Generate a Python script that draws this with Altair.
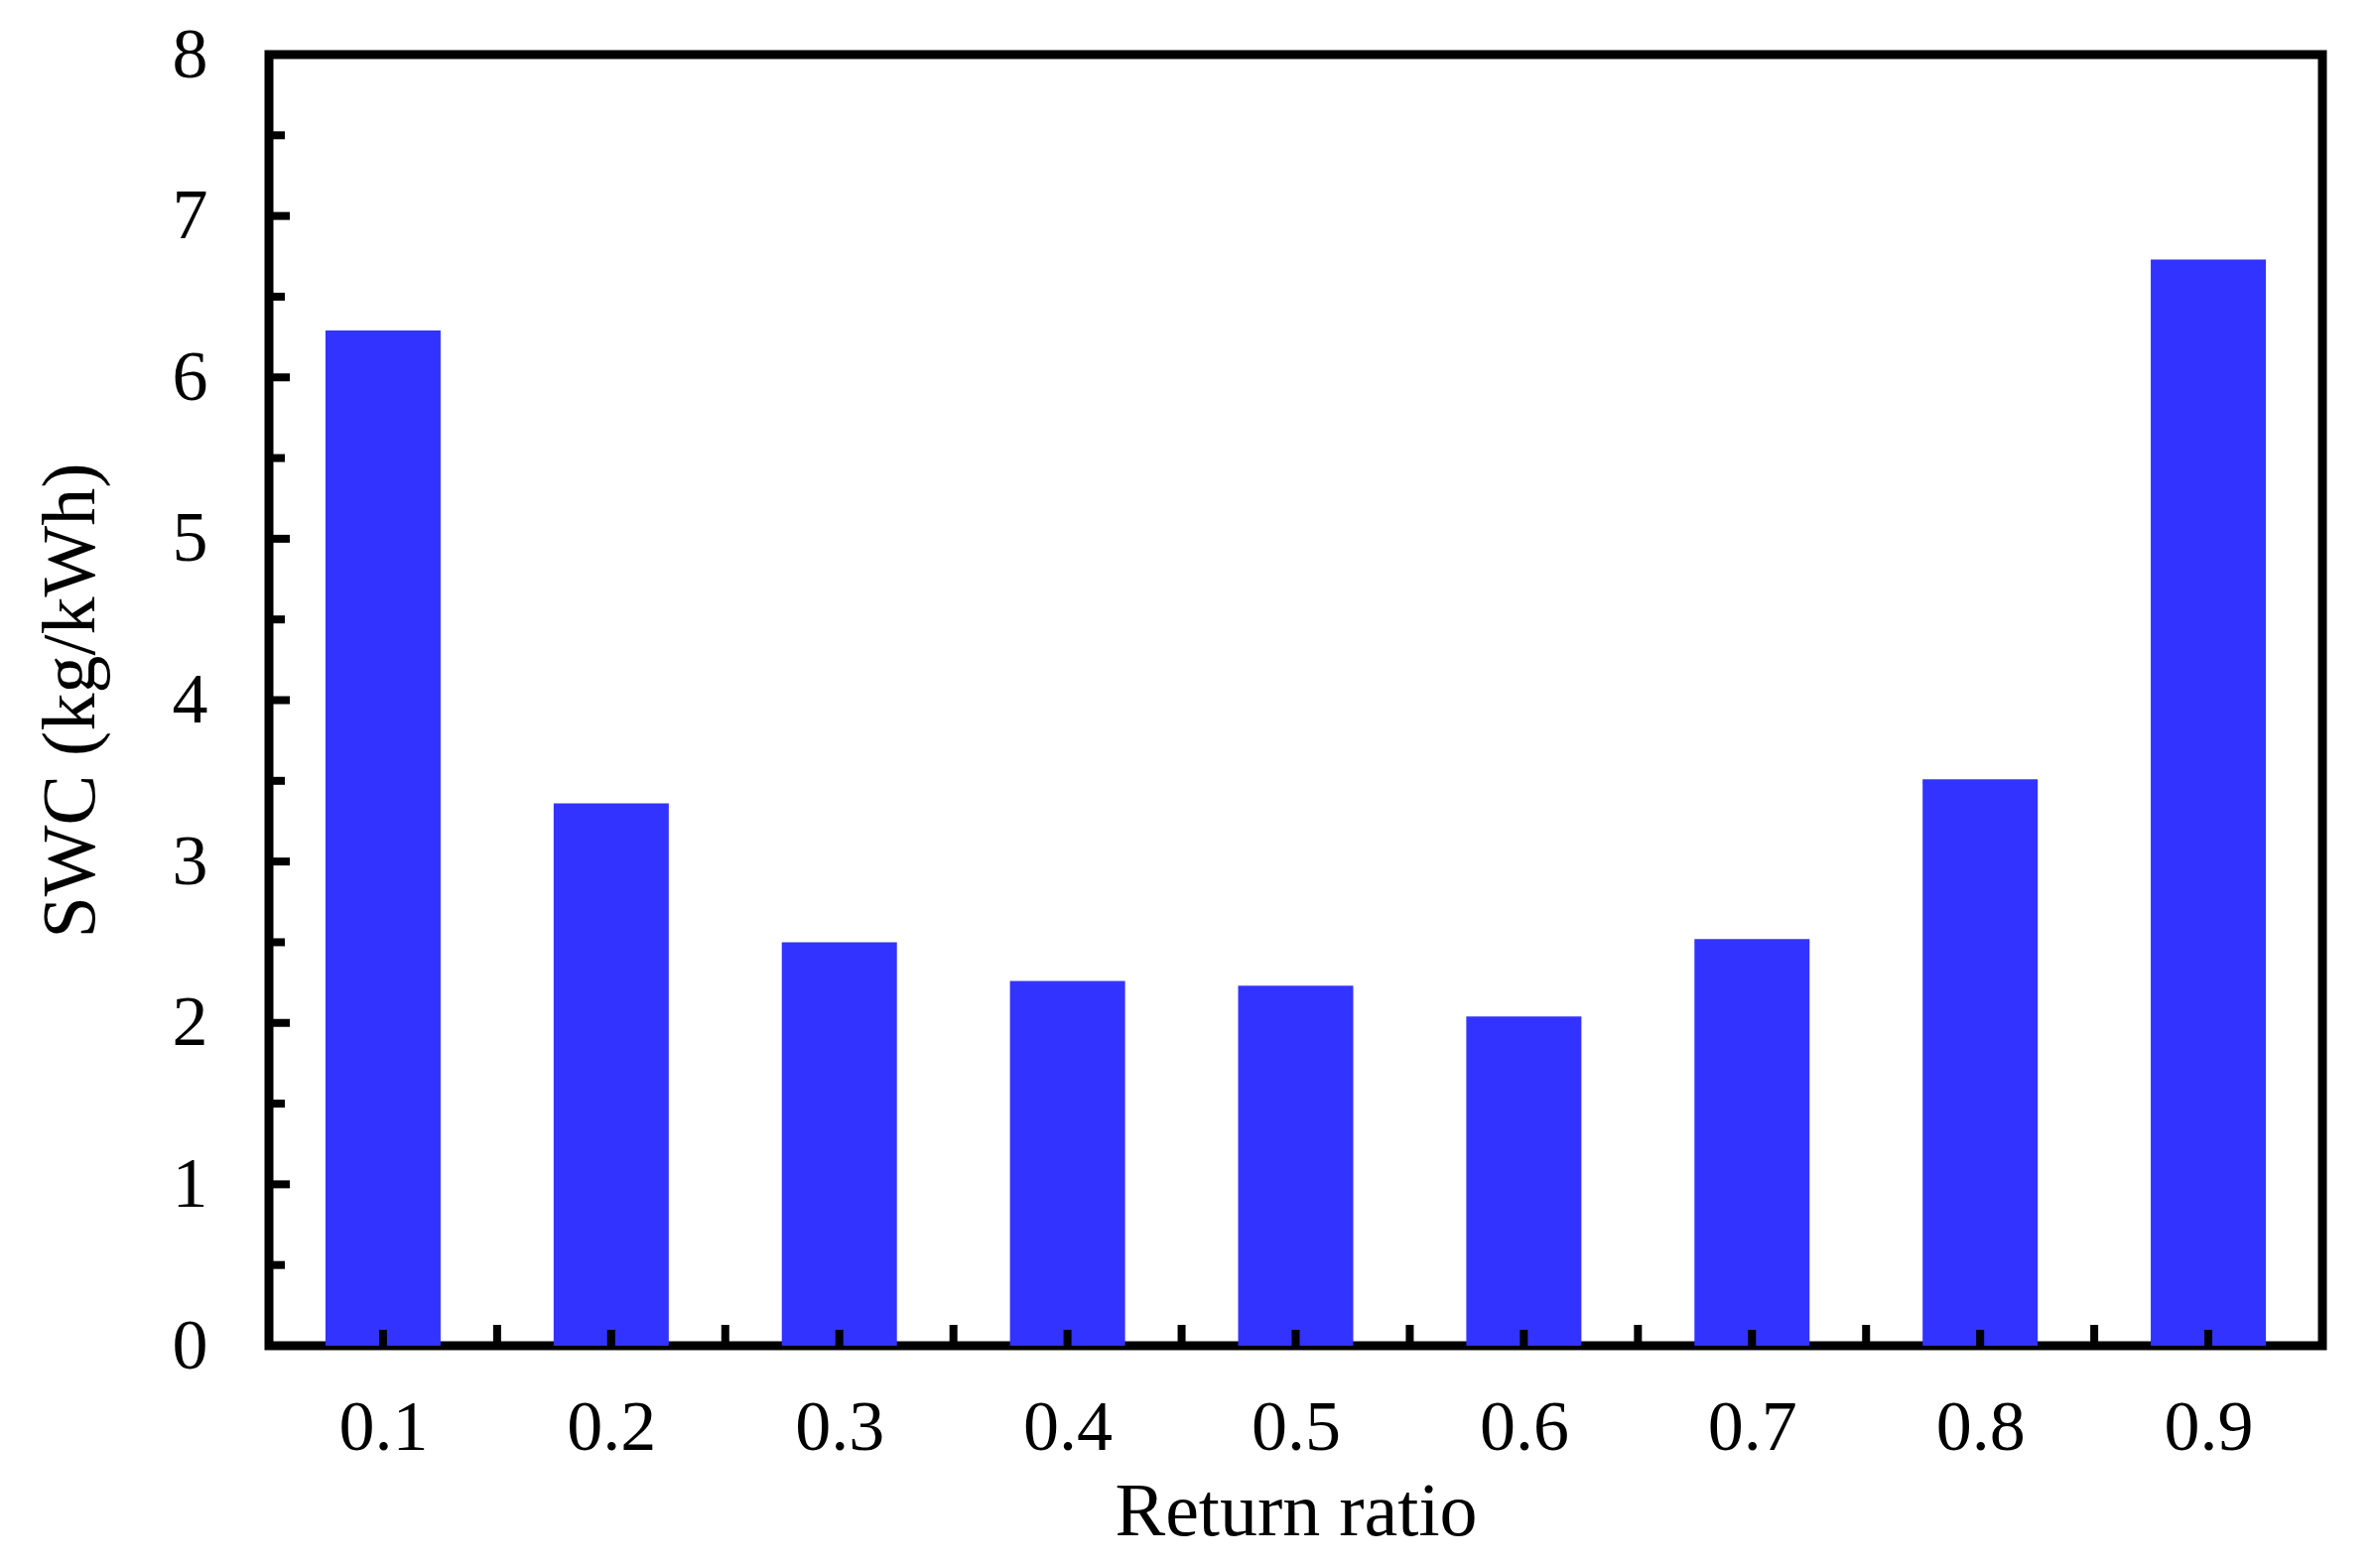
import altair as alt
import pandas as pd

# data
ratios = [0.1, 0.2, 0.3, 0.4, 0.5, 0.6, 0.7, 0.8, 0.9]
swc = [6.29, 3.36, 2.50, 2.26, 2.23, 2.04, 2.52, 3.51, 6.73]
y_major = [1, 2, 3, 4, 5, 6, 7]
y_minor = [0.5, 1.5, 2.5, 3.5, 4.5, 5.5, 6.5, 7.5]
x_short = ratios
x_long = [0.15, 0.25, 0.35, 0.45, 0.55, 0.65, 0.75, 0.85]
y_labels = [0, 1, 2, 3, 4, 5, 6, 7, 8]

W, H = 2069, 1301
FONT = "Liberation Serif"

df = pd.DataFrame({"ratio": ratios, "swc": swc})

xscale = alt.Scale(domain=[0.05, 0.95], nice=False, zero=False, padding=0)
yscale = alt.Scale(domain=[0, 8], nice=False, padding=0)

bars = alt.Chart(df).mark_bar(size=116, color="#3333FF").encode(
    x=alt.X("ratio:Q", scale=xscale,
            axis=alt.Axis(title="Return ratio", values=ratios, format=".1f",
                          ticks=False, domain=False, grid=False,
                          labelFont=FONT, labelFontSize=72, labelColor="black",
                          labelPadding=47, labelFlush=False,
                          titleFont=FONT, titleFontSize=76, titleFontWeight="normal",
                          titleColor="black", titlePadding=12)),
    y=alt.Y("swc:Q", scale=yscale,
            axis=alt.Axis(title="SWC (kg/kWh)", values=y_labels, format="d",
                          ticks=False, domain=False, grid=False,
                          labelFont=FONT, labelFontSize=72, labelColor="black",
                          labelPadding=62, labelFlush=False,
                          titleFont=FONT, titleFontSize=76, titleFontWeight="normal",
                          titleColor="black", titlePadding=63)),
)

ymaj = alt.Chart(pd.DataFrame({"v": y_major})).mark_rule(color="black", strokeWidth=8).encode(
    y=alt.Y("v:Q", scale=yscale), x=alt.value(0), x2=alt.value(21))
ymin = alt.Chart(pd.DataFrame({"v": y_minor})).mark_rule(color="black", strokeWidth=8).encode(
    y=alt.Y("v:Q", scale=yscale), x=alt.value(0), x2=alt.value(16))
xs = alt.Chart(pd.DataFrame({"v": x_short})).mark_rule(color="black", strokeWidth=8).encode(
    x=alt.X("v:Q", scale=xscale), y=alt.value(H), y2=alt.value(H - 16))
xl = alt.Chart(pd.DataFrame({"v": x_long})).mark_rule(color="black", strokeWidth=8).encode(
    x=alt.X("v:Q", scale=xscale), y=alt.value(H), y2=alt.value(H - 21))

chart = alt.layer(bars, ymaj, ymin, xs, xl).properties(
    width=W, height=H,
    autosize=alt.AutoSizeParams(type="none"),
    padding={"left": 263, "top": 47, "right": 46, "bottom": 216},
    background="white",
).configure_view(stroke="black", strokeWidth=9)

chart.save("out.html", embed_options={"renderer": "svg", "actions": False})
